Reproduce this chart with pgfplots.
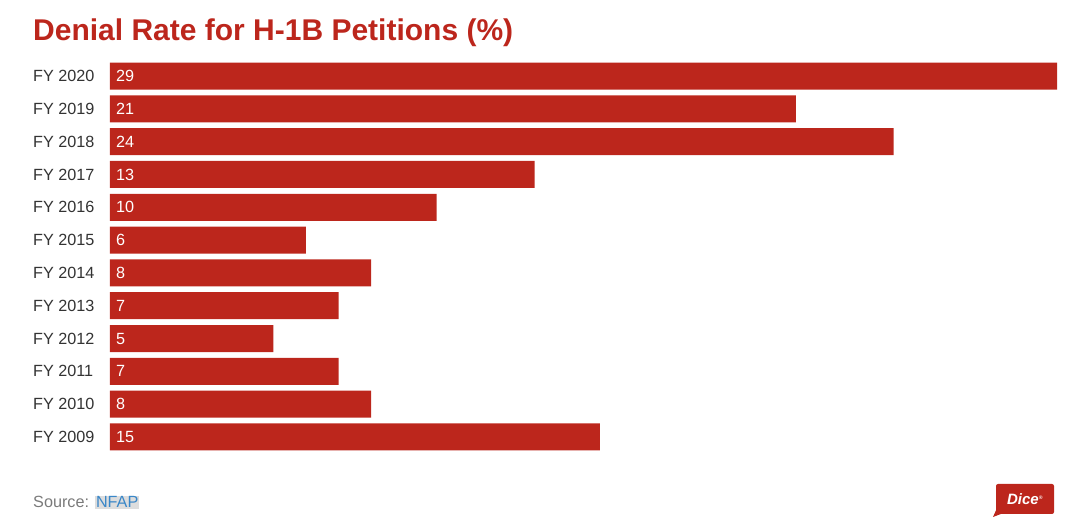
\documentclass[border=0pt]{standalone}
\usepackage{pgfplots}
\pgfplotsset{compat=1.18}
\usepackage{pgfplotstable}
\usepackage{fontspec}
\setmainfont{Liberation Sans}
\definecolor{barred}{HTML}{BC261C}
\definecolor{ticktext}{HTML}{333333}
\definecolor{srcgray}{HTML}{7A7A7A}
\definecolor{linkblue}{HTML}{3A87C8}
\definecolor{hl}{HTML}{DDDDDD}
\pgfplotstableread{
idx rate
0 15
1 8
2 7
3 5
4 7
5 8
6 6
7 10
8 13
9 24
10 21
11 29
}\denial
\begin{document}
\begin{tikzpicture}
\path[use as bounding box] (0,0) rectangle (1080pt,530pt);
\begin{axis}[
  at={(110pt,76.6pt)}, anchor=south west,
  scale only axis, width=947pt, height=393.8pt,
  xmin=0, xmax=29, ymin=-0.5, ymax=11.5,
  axis line style={draw=none},
  major tick length=0pt,
  xtick=\empty,
  ytick={0,...,11},
  yticklabels={FY 2009,FY 2010,FY 2011,FY 2012,FY 2013,FY 2014,FY 2015,FY 2016,FY 2017,FY 2018,FY 2019,FY 2020},
  yticklabel style={font=\fontsize{16.2}{19}\selectfont, text=ticktext, anchor=west, inner xsep=0pt, xshift=-77pt},
  /pgf/number format/assume math mode=true,
  clip=false,
]
\addplot[xbar, bar width=27pt, fill=barred, draw=none] table[x=rate, y=idx] {\denial};
\addplot[draw=none, mark=none, nodes near coords, point meta=explicit,
  every node near coord/.style={anchor=west, text=white, font=\fontsize{16.2}{19}\selectfont, xshift=2.5pt}]
  table[x expr=0, y=idx, meta=rate] {\denial};
\end{axis}
\node[anchor=base west, inner sep=0pt, text=barred, font=\bfseries\fontsize{30}{34}\selectfont] at (33pt,489pt) {Denial Rate for H-1B Petitions (\%)};
\node[anchor=base west, inner sep=0pt, text=srcgray, font=\fontsize{16.2}{19}\selectfont] at (33pt,22pt) {Source: {\setlength{\fboxsep}{1pt}\colorbox{hl}{\textcolor{linkblue}{NFAP}}}};
\node[fill=barred, rounded corners=2pt, minimum width=58pt, minimum height=30pt, inner sep=0pt, text=white, font=\bfseries\itshape\fontsize{15}{18}\selectfont] (dice) at (1025pt,31pt) {Dice\textsuperscript{\tiny\textregistered}};
\fill[barred] (997pt,22pt) -- (993pt,13pt) -- (1006pt,18pt) -- cycle;
\end{tikzpicture}
\end{document}
